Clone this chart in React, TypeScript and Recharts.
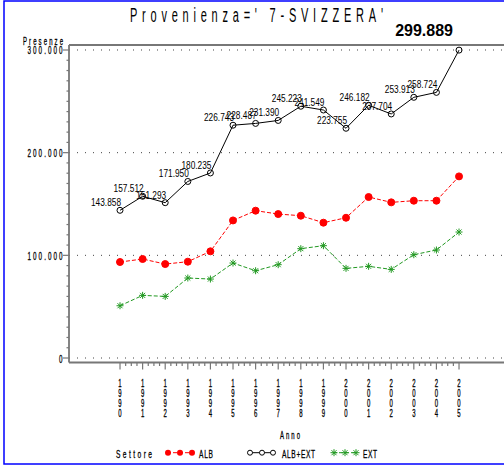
import React from "react";
import { LineChart, Line, XAxis, YAxis, ReferenceLine, LabelList } from "recharts";

const YEARS = [1990, 1991, 1992, 1993, 1994, 1995, 1996, 1997, 1998, 1999, 2000, 2001, 2002, 2003, 2004, 2005];
const ALB = [93500, 96400, 91500, 93800, 103900, 134000, 143500, 140200, 138600, 131800, 136600, 156800, 151600, 153200, 153200, 176900];
const ALB_EXT = [143858, 157512, 151293, 171950, 180235, 226743, 228487, 231390, 245223, 241549, 223755, 246182, 237704, 253913, 258724, 299889];
const EXT = [50900, 61000, 60000, 77900, 76900, 92500, 85000, 90900, 106500, 109400, 87300, 89300, 86300, 100600, 105200, 122700];
const GRID_VALUES = [0, 100000, 200000, 300000];
const Y_LABELS = ["0", "100.000", "200.000", "300.000"];

const Y_MIN = -4383;
const Y_MAX = 304870;
const X_MIN = 1987.743;
const X_MAX = 2006.99;

const RED = "#ff0000";
const GREEN = "#229922";
const AXIS = "#777";
const FONT = "Liberation Sans, Arial, sans-serif";

const data = YEARS.map((year, i) => ({ year, alb: ALB[i], albExt: ALB_EXT[i], ext: EXT[i] }));

// quarter-year minor ticks between the years
const xTicks: number[] = [];
YEARS.forEach((y, i) => {
  xTicks.push(y);
  if (i < YEARS.length - 1) xTicks.push(y + 0.25, y + 0.5, y + 0.75);
});
const yTicks: number[] = [];
for (let v = 0; v <= 300000; v += 10000) yTicks.push(v);

const fmt = (v: number) => String(v).replace(/\B(?=(\d{3})+(?!\d))/g, ".");

// narrow stroke-like text, squeezed horizontally
function SasText({ x, y, text, size, width, anchor = "start", sx = 0.6, weight = 0.3 }: any) {
  return (
    <g transform={`translate(${x},${y}) scale(${sx},1)`}>
      <text
        x={0}
        y={0}
        fontSize={size}
        fontFamily={FONT}
        textAnchor={anchor}
        fill="#000"
        stroke="#000"
        strokeWidth={weight}
        {...(width ? { textLength: width / sx, lengthAdjust: "spacing" } : {})}
      >
        {text}
      </text>
    </g>
  );
}

function XTick({ x, y, payload }: any) {
  const v = payload.value;
  if (!Number.isInteger(v)) {
    return <line x1={x} y1={y} x2={x} y2={y + 3.5} stroke={AXIS} strokeWidth={1.2} />;
  }
  const digits = String(v).split("");
  return (
    <g>
      <line x1={x} y1={y} x2={x} y2={y + 7} stroke={AXIS} strokeWidth={1.2} />
      {digits.map((d, i) => (
        <SasText key={i} x={x} y={y + 24.5 + i * 10} text={d} size={10} anchor="middle" />
      ))}
    </g>
  );
}

function YTick({ x, y, payload }: any) {
  const v = payload.value;
  const gi = GRID_VALUES.indexOf(v);
  if (gi < 0) {
    return <line x1={x - 2.5} y1={y} x2={x} y2={y} stroke={AXIS} strokeWidth={1.2} />;
  }
  const label = Y_LABELS[gi];
  return (
    <g>
      <line x1={x - 6} y1={y} x2={x} y2={y} stroke={AXIS} strokeWidth={1.2} />
      <SasText x={x - 6.5} y={y + 4.5} text={label} size={10.5} width={label.length * 5} anchor="end" />
    </g>
  );
}

function StarDot(props: any) {
  const { cx, cy, index } = props;
  if (cx == null || cy == null) return null;
  return <Star key={`st${index}`} cx={cx} cy={cy} />;
}

function Star({ cx, cy }: any) {
  const r = 3.5;
  const d = r * 0.72;
  return (
    <g stroke={GREEN} strokeWidth={1}>
      <line x1={cx - r} y1={cy} x2={cx + r} y2={cy} />
      <line x1={cx} y1={cy - r} x2={cx} y2={cy + r} />
      <line x1={cx - d} y1={cy - d} x2={cx + d} y2={cy + d} />
      <line x1={cx - d} y1={cy + d} x2={cx + d} y2={cy - d} />
    </g>
  );
}

function PointLabel(props: any) {
  const { x, y, value, index } = props;
  if (x == null) return null;
  if (index === ALB_EXT.length - 1) {
    return (
      <text x={x - 6} y={y - 14} fontSize={16} fontWeight="bold" fontFamily={FONT} textAnchor="end" fill="#000">
        {fmt(value)}
      </text>
    );
  }
  return (
    <text
      x={x + 1}
      y={y - 4}
      fontSize={11}
      fontFamily={FONT}
      textAnchor="end"
      fill="#000"
      textLength={30}
      lengthAdjust="spacingAndGlyphs"
    >
      {fmt(value)}
    </text>
  );
}

export default function App() {
  return (
    <div style={{ position: "absolute", left: 0, top: 0, width: 504, height: 466, background: "#fff", overflow: "hidden" }}>
      <LineChart width={504} height={466} data={data} margin={{ top: 45, right: 0, bottom: 0, left: 0 }}>
        <XAxis
          dataKey="year"
          type="number"
          domain={[X_MIN, X_MAX]}
          allowDataOverflow
          ticks={xTicks}
          interval={0}
          height={103.5}
          tickSize={0}
          tickMargin={0}
          tickLine={false}
          tick={<XTick />}
          axisLine={{ stroke: AXIS, strokeWidth: 1.8 }}
        />
        <YAxis
          type="number"
          domain={[Y_MIN, Y_MAX]}
          allowDataOverflow
          ticks={yTicks}
          interval={0}
          width={69}
          tickSize={0}
          tickMargin={0}
          tickLine={false}
          tick={<YTick />}
          axisLine={{ stroke: AXIS, strokeWidth: 1.8 }}
        />
        {GRID_VALUES.map((v) => (
          <ReferenceLine key={v} y={v} stroke="#444" strokeDasharray="1 7" strokeWidth={1} />
        ))}
        <ReferenceLine y={Y_MAX} stroke={AXIS} strokeWidth={1.8} />
        <Line
          dataKey="ext"
          stroke={GREEN}
          strokeWidth={1}
          strokeDasharray="4 2"
          dot={StarDot}
          activeDot={false}
          isAnimationActive={false}
        />
        <Line
          dataKey="alb"
          stroke={RED}
          strokeWidth={1}
          strokeDasharray="4 2"
          dot={{ r: 3.5, fill: RED, stroke: RED, strokeWidth: 1, strokeDasharray: "" }}
          activeDot={false}
          isAnimationActive={false}
        />
        <Line
          dataKey="albExt"
          stroke="#000"
          strokeWidth={1}
          dot={{ r: 3, fill: "none", stroke: "#000", strokeWidth: 1 }}
          activeDot={false}
          isAnimationActive={false}
        >
          <LabelList dataKey="albExt" content={PointLabel} />
        </Line>
      </LineChart>
      <svg width={504} height={466} style={{ position: "absolute", left: 0, top: 0, pointerEvents: "none" }}>
        <rect x={4} y={1} width={600} height={463} fill="none" stroke="#0000ff" strokeWidth={1.5} />
        <SasText x={130} y={22} text="Provenienza=' 7-SVIZZERA'" size={20} width={253} sx={0.55} weight={0} />
        <SasText x={63} y={45} text="Presenze" size={10} width={40} anchor="end" />
        <SasText x={280} y={439} text="Anno" size={10} width={20} />
        <SasText x={116} y={458} text="Settore" size={11} width={36} />
        <line x1={167} y1={452.7} x2={193} y2={452.7} stroke={RED} strokeDasharray="4 2" />
        {[168, 180, 192].map((cx) => (
          <circle key={cx} cx={cx} cy={452.7} r={3} fill={RED} />
        ))}
        <SasText x={199} y={458} text="ALB" size={11} width={14} />
        <line x1={249} y1={452.7} x2={274} y2={452.7} stroke="#000" />
        {[250, 262, 273].map((cx) => (
          <circle key={cx} cx={cx} cy={452.7} r={2.5} fill="#fff" stroke="#000" />
        ))}
        <SasText x={282} y={458} text="ALB+EXT" size={11} width={33} />
        <line x1={333} y1={452.7} x2={357} y2={452.7} stroke={GREEN} strokeDasharray="4 2" />
        {[334, 345, 356].map((cx) => (
          <Star key={cx} cx={cx} cy={452.7} />
        ))}
        <SasText x={363} y={458} text="EXT" size={11} width={14} />
      </svg>
    </div>
  );
}
